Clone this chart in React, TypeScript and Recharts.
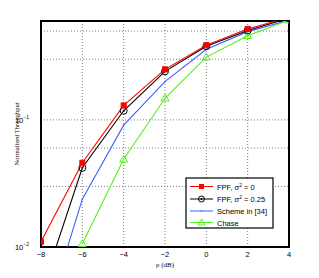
import React from 'react';
import { LineChart, Line, XAxis, YAxis, CartesianGrid, ReferenceArea, Label } from 'recharts';

const rho = [-8, -6, -4, -2, 0, 2, 4];
const fpf0 = [0.011, 0.046, 0.13, 0.25, 0.387, 0.52, 0.64];
const fpf025 = [0.0044, 0.042, 0.118, 0.241, 0.38, 0.505, 0.633];
const scheme34 = [0.0021, 0.0238, 0.091, 0.2, 0.36, 0.495, 0.61];
const chase: (number | null)[] = [null, 0.0106, 0.049, 0.148, 0.312, 0.46, 0.61];

const xTicks = [-8, -6, -4, -2, 0, 2, 4];
const yTicks = [0.01, 0.02, 0.03, 0.04, 0.05, 0.06, 0.07, 0.08, 0.09, 0.1, 0.2, 0.3, 0.4, 0.5];
const yMajor: Record<string, string> = { '0.01': '−2', '0.1': '−1' };

const seriesNames = ['FPF, σ² = 0', 'FPF, σ² = 0.25', 'Scheme in [34]', 'Chase'];
const colors = ['#ff0000', '#000000', '#3f5fff', '#55ee22'];

const data = rho.map((r, i) => ({ rho: r, a: fpf0[i], b: fpf025[i], c: scheme34[i], d: chase[i] }));

const FONT = 'Liberation Sans, Arial, sans-serif';

const SquareDot = (p: any) => {
  if (p.cy == null || p.value == null) return null;
  return <rect key={p.key} x={p.cx - 2.5} y={p.cy - 2.5} width={5} height={5} fill="#ff0000" stroke="#ff0000" />;
};
const CircleDot = (p: any) => {
  if (p.cy == null || p.value == null) return null;
  return (
    <g key={p.key}>
      <circle cx={p.cx} cy={p.cy} r={3.5} fill="none" stroke="#000" strokeWidth={1} />
      <circle cx={p.cx} cy={p.cy} r={1} fill="#000" />
    </g>
  );
};
const SmallDot = (p: any) => {
  if (p.cy == null || p.value == null) return null;
  return <circle key={p.key} cx={p.cx} cy={p.cy} r={0.8} fill="#3f5fff" />;
};
const TriDot = (p: any) => {
  if (p.cy == null || p.value == null) return null;
  const s = 4;
  return (
    <polygon
      key={p.key}
      points={`${p.cx},${p.cy - s} ${p.cx - s},${p.cy + s * 0.7} ${p.cx + s},${p.cy + s * 0.7}`}
      fill="none"
      stroke="#55ee22"
      strokeWidth={1}
    />
  );
};

const markers = [
  (cx: number, cy: number) => <rect x={cx - 2.5} y={cy - 2.5} width={5} height={5} fill="#ff0000" />,
  (cx: number, cy: number) => (
    <g>
      <circle cx={cx} cy={cy} r={3} fill="none" stroke="#000" />
      <circle cx={cx} cy={cy} r={1} fill="#000" />
    </g>
  ),
  (cx: number, cy: number) => <circle cx={cx} cy={cy} r={0.8} fill="#3f5fff" />,
  (cx: number, cy: number) => (
    <polygon points={`${cx},${cy - 3.5} ${cx - 3.5},${cy + 2.5} ${cx + 3.5},${cy + 2.5}`} fill="none" stroke="#55ee22" />
  ),
];

const LegendBox = () => {
  const x0 = 186;
  const y0 = 178;
  const w = 87;
  const h = 50;
  const rows = [186.5, 199, 211, 222.5];
  return (
    <svg style={{ position: 'absolute', left: 0, top: 0, overflow: 'visible' }} width={319} height={278}>
      <rect x={x0} y={y0} width={w} height={h} fill="#fff" stroke="#000" strokeWidth={1.2} />
      {seriesNames.map((n, i) => (
        <g key={n}>
          <line x1={x0 + 4} x2={x0 + 27} y1={rows[i]} y2={rows[i]} stroke={colors[i]} strokeWidth={1} />
          {markers[i](x0 + 15.5, rows[i])}
          {i < 2 ? (
            <text x={x0 + 31} y={rows[i] + 3} fontSize={7.5} fontFamily={FONT} fill="#000">
              <tspan>FPF, σ</tspan>
              <tspan dy={-3} fontSize={5}>2</tspan>
              <tspan dy={3}>{i === 0 ? ' = 0' : ' = 0.25'}</tspan>
            </text>
          ) : (
            <text x={x0 + 31} y={rows[i] + 3} fontSize={7.5} fontFamily={FONT} fill="#000">
              {n}
            </text>
          )}
        </g>
      ))}
    </svg>
  );
};

const YTick = (p: any) => {
  const v = p.payload.value;
  const key = String(Number(v.toPrecision(3)));
  const sup = yMajor[key];
  if (!sup) return null;
  return (
    <text x={p.x - 4} y={p.y + 3} textAnchor="end" fontSize={7.5} fontFamily={FONT} fill="#000">
      <tspan>10</tspan>
      <tspan dy={-4} fontSize={5}>{sup}</tspan>
    </text>
  );
};

const XTick = (p: any) => {
  const v = p.payload.value;
  return (
    <text x={p.x} y={p.y + 2} textAnchor="middle" fontSize={7.5} fontFamily={FONT} fill="#000">
      {v < 0 ? '−' + Math.abs(v) : String(v)}
    </text>
  );
};

export default function App() {
  return (
    <div style={{ position: 'absolute', left: 0, top: 0, width: 319, height: 278, background: '#fff' }}>
      <LineChart width={319} height={278} data={data} margin={{ top: 21, right: 30, bottom: 0, left: 0 }}>
        <CartesianGrid stroke="#808080" strokeDasharray="1 2" strokeWidth={1} />
        <XAxis
          dataKey="rho"
          type="number"
          domain={[-8, 4]}
          ticks={xTicks}
          height={31}
          tick={<XTick />}
          tickLine={false}
          axisLine={false}
          allowDataOverflow
        >
          <Label
            content={() => (
              <text x={165} y={267} textAnchor="middle" fontSize={7} fontFamily="Liberation Serif, serif" fill="#000">
                ρ (dB)
              </text>
            )}
          />
        </XAxis>
        <YAxis
          scale="log"
          type="number"
          domain={[0.01, 0.6]}
          ticks={yTicks}
          width={41}
          tick={<YTick />}
          tickLine={false}
          axisLine={false}
          allowDataOverflow
        >
          <Label
            content={() => (
              <text
                x={19}
                y={134}
                transform="rotate(-90 19 134)"
                textAnchor="middle"
                fontSize={6.5}
                fontFamily="Liberation Serif, serif"
                fill="#000"
              >
                Normalized Throughput
              </text>
            )}
          />
        </YAxis>
        <Line dataKey="c" stroke={colors[2]} strokeWidth={1.1} dot={<SmallDot />} isAnimationActive={false} connectNulls={false} />
        <Line dataKey="d" stroke={colors[3]} strokeWidth={1.1} dot={<TriDot />} isAnimationActive={false} connectNulls={false} />
        <Line dataKey="b" stroke={colors[1]} strokeWidth={1.1} dot={<CircleDot />} isAnimationActive={false} />
        <Line dataKey="a" stroke={colors[0]} strokeWidth={1.1} dot={<SquareDot />} isAnimationActive={false} />
        <ReferenceArea x1={-8} x2={4} y1={0.01} y2={0.6} fill="none" stroke="#000" strokeWidth={2} ifOverflow="visible" />
      </LineChart>
      <LegendBox />
    </div>
  );
}
